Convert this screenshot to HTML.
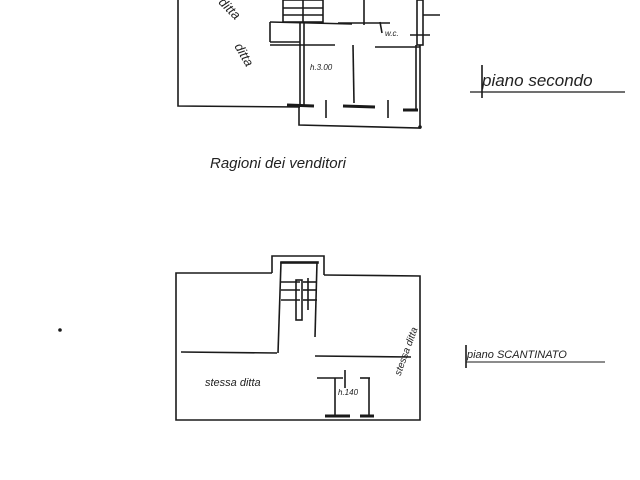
<!DOCTYPE html>
<html><head><style>body{margin:0;background:#fff}svg{display:block}text{font-family:"Liberation Sans",sans-serif;fill:#222;font-style:italic}</style></head><body>
<svg width="640" height="480" viewBox="0 0 640 480" stroke="#1a1a1a" fill="none" stroke-width="1.6">
<!-- top plan -->
<polyline points="178,0 178,106 300,107"/>
<polyline points="299,107 299,125 420,128 420,45"/>
<line x1="300" y1="23" x2="300" y2="105"/><line x1="304" y1="23" x2="304" y2="105"/>
<line x1="287" y1="105" x2="314" y2="106" stroke-width="3"/>
<line x1="353" y1="45" x2="354" y2="103"/>
<line x1="343" y1="106" x2="375" y2="107" stroke-width="3"/>
<line x1="326" y1="100" x2="326" y2="118"/><line x1="388" y1="100" x2="388" y2="118"/>
<line x1="403" y1="110" x2="418" y2="110" stroke-width="3"/>
<line x1="416" y1="45" x2="416" y2="110"/>
<line x1="270" y1="22" x2="352" y2="24"/><line x1="270" y1="42" x2="300" y2="42"/>
<line x1="270" y1="42" x2="270" y2="22"/>
<line x1="270" y1="45" x2="335" y2="45"/><line x1="375" y1="47" x2="420" y2="47"/>
<line x1="338" y1="23" x2="390" y2="23"/><line x1="364" y1="0" x2="364" y2="25"/>
<line x1="380" y1="22" x2="382" y2="33"/>
<rect x="283" y="0" width="40" height="22"/><line x1="303" y1="0" x2="303" y2="22"/>
<line x1="283" y1="8" x2="323" y2="8"/><line x1="283" y1="15" x2="323" y2="15"/>
<rect x="417" y="0" width="6" height="45"/><line x1="423" y1="15" x2="440" y2="15"/>
<line x1="410" y1="35" x2="430" y2="35"/>
<text x="385" y="36" font-size="8" stroke="none">w.c.</text>
<text x="310" y="70" font-size="8" stroke="none">h.3.00</text>
<text x="232" y="60" font-size="13" stroke="none" transform="rotate(60 245 55)">ditta</text>
<text x="215" y="10" font-size="13" stroke="none" transform="rotate(45 225 10)">ditta</text>
<text x="482" y="86" font-size="17" stroke="none">piano secondo</text>
<line x1="470" y1="92" x2="625" y2="92" stroke-width="1.2"/><line x1="482" y1="65" x2="482" y2="98"/>
<text x="210" y="168" font-size="15" stroke="none">Ragioni dei venditori</text>
<!-- bottom plan -->
<polyline points="272,273 176,273 176,420 420,420 420,276 324,275"/>
<polyline points="272,273 272,256 324,256 324,275"/>
<rect x="281" y="262" width="37" height="1"/>
<line x1="281" y1="262" x2="278" y2="353"/><line x1="317" y1="262" x2="315" y2="337"/>
<line x1="181" y1="352" x2="277" y2="353"/>
<line x1="315" y1="356" x2="411" y2="357"/>
<line x1="281" y1="282" x2="300" y2="282"/><line x1="281" y1="290" x2="300" y2="290"/><line x1="281" y1="300" x2="300" y2="300"/>
<rect x="296" y="280" width="6" height="40"/>
<line x1="303" y1="282" x2="317" y2="282"/><line x1="303" y1="290" x2="317" y2="290"/><line x1="303" y1="300" x2="317" y2="300"/>
<line x1="308" y1="278" x2="308" y2="310"/>
<line x1="317" y1="378" x2="343" y2="378"/><line x1="360" y1="378" x2="370" y2="378"/>
<line x1="335" y1="378" x2="335" y2="417"/><line x1="369" y1="378" x2="369" y2="417"/>
<line x1="325" y1="416" x2="350" y2="416" stroke-width="3"/><line x1="360" y1="416" x2="374" y2="416" stroke-width="3"/>
<line x1="345" y1="370" x2="345" y2="388"/>
<text x="338" y="395" font-size="8" stroke="none">h.140</text>
<text x="205" y="386" font-size="11" stroke="none">stessa ditta</text>
<text x="375" y="380" font-size="10" stroke="none" transform="rotate(-70 385 360)">stessa ditta</text>
<text x="467" y="358" font-size="11" stroke="none">piano SCANTINATO</text>
<line x1="466" y1="362" x2="605" y2="362" stroke-width="1"/><line x1="466" y1="345" x2="466" y2="368"/>
<circle cx="60" cy="330" r="1" fill="#222"/><circle cx="420" cy="127" r="1" fill="#222"/>
</svg></body></html>
